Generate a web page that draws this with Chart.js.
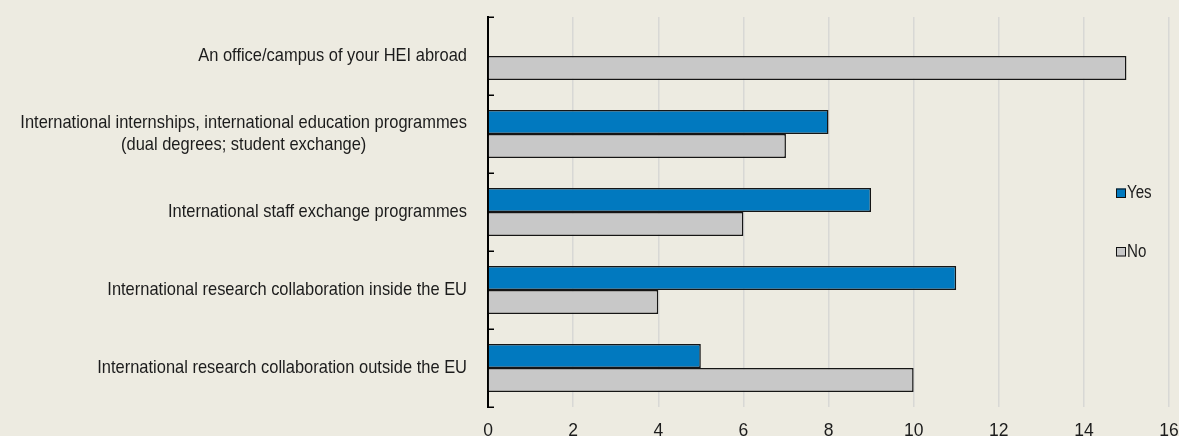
<!DOCTYPE html>
<html>
<head>
<meta charset="utf-8">
<script src="https://cdn.jsdelivr.net/npm/chart.js@4/dist/chart.umd.min.js"></script>
<style>
  html, body { margin: 0; padding: 0; background: #EDEBE1; overflow: hidden; }
  #wrap { position: relative; width: 1179px; height: 436px; }
</style>
</head>
<body>
<div id="wrap"><canvas id="chart"></canvas></div>
<script>
// Category labels (multi-line where needed)
const categories = [
  ["An office/campus of your HEI abroad"],
  ["International internships, international education programmes", "(dual degrees; student exchange)"],
  ["International staff exchange programmes"],
  ["International research collaboration inside the EU"],
  ["International research collaboration outside the EU"]
];
const seriesNames = ["Yes", "No"];
const yesValues = [null, 8, 9, 11, 5];
const noValues = [15, 7, 6, 4, 10];
const xMin = 0;
const xMax = 16;
const xStep = 2;

const BG = '#EDEBE1';
const TEXT = '#1c1c1c';
const BLUE = '#0179BF';
const GREY = '#C8C8C8';
const FONT = '"Liberation Sans", Arial, sans-serif';

// Slightly condensed text, drawn straight on the canvas
function condensedText(ctx, str, x, y, align, size, sx) {
  ctx.save();
  ctx.font = size + 'px ' + FONT;
  ctx.fillStyle = TEXT;
  ctx.textBaseline = 'middle';
  ctx.translate(x, y);
  ctx.scale(sx, 1);
  ctx.textAlign = align;
  ctx.fillText(str, 0, 0);
  ctx.restore();
}

const backgroundPlugin = {
  id: 'bg',
  beforeDraw(chart) {
    const { ctx, width, height } = chart;
    ctx.save();
    ctx.fillStyle = BG;
    ctx.fillRect(0, 0, width, height);
    ctx.restore();
  }
};

// Category labels, inward tick marks on the value axis, and the legend
const decorPlugin = {
  id: 'decor',
  afterDraw(chart) {
    const { ctx, chartArea } = chart;
    const yScale = chart.scales.y;
    const n = categories.length;
    const size = 18.5, sx = 0.89, lineH = 22;

    // category labels, lines centred on each other, block right-aligned
    const right = chartArea.left - 21;
    ctx.save();
    ctx.font = size + 'px ' + FONT;
    categories.forEach((lines, i) => {
      const yc = yScale.getPixelForValue(i);
      const w = Math.max(...lines.map(l => ctx.measureText(l).width)) * sx;
      lines.forEach((l, j) => {
        const yy = yc + (j - (lines.length - 1) / 2) * lineH;
        condensedText(ctx, l, right - w / 2, yy, 'center', size, sx);
      });
    });
    ctx.restore();

    // tick marks between categories, pointing into the plot
    ctx.save();
    ctx.strokeStyle = '#000';
    ctx.lineWidth = 1.5;
    const step = (chartArea.bottom - chartArea.top) / n;
    for (let k = 0; k <= n; k++) {
      const y = Math.round(chartArea.top + k * step) + 0.25;
      ctx.beginPath();
      ctx.moveTo(chartArea.left, y);
      ctx.lineTo(chartArea.left + 6, y);
      ctx.stroke();
    }
    ctx.restore();

    // legend
    const items = [
      { label: seriesNames[0], color: BLUE, y: 193 },
      { label: seriesNames[1], color: GREY, y: 251.5 }
    ];
    ctx.save();
    items.forEach(it => {
      ctx.fillStyle = it.color;
      ctx.fillRect(1116, it.y - 4.5, 10, 9.5);
      ctx.strokeStyle = '#111';
      ctx.lineWidth = 1;
      ctx.strokeRect(1116.5, it.y - 4, 9, 8.5);
      condensedText(ctx, it.label, 1127, it.y + 0.5, 'left', 18, 0.84);
    });
    ctx.restore();
  }
};

new Chart(document.getElementById('chart'), {
  type: 'bar',
  data: {
    labels: categories,
    datasets: [
      { label: seriesNames[0], data: yesValues, backgroundColor: BLUE, borderColor: '#151515', borderWidth: 1.5 },
      { label: seriesNames[1], data: noValues, backgroundColor: GREY, borderColor: '#151515', borderWidth: 1.5 }
    ]
  },
  options: {
    indexAxis: 'y',
    responsive: true,
    maintainAspectRatio: false,
    animation: false,
    layout: { padding: { top: 17, right: 10, left: 0, bottom: 0 } },
    datasets: { bar: { categoryPercentage: 0.615, barPercentage: 1 } },
    plugins: { legend: { display: false }, tooltip: { enabled: false } },
    scales: {
      x: {
        min: xMin, max: xMax,
        ticks: { stepSize: xStep, color: TEXT, font: { family: FONT, size: 17.5 }, padding: 14 },
        grid: { color: '#D8D8D5', lineWidth: 1.5, drawTicks: false },
        border: { display: false },
        afterFit(s) { s.height = 29; s.paddingLeft = 0; s.paddingRight = 0; }
      },
      y: {
        ticks: { display: false },
        grid: { display: false },
        border: { display: true, color: '#000', width: 2 },
        afterFit(s) { s.width = 488; }
      }
    }
  },
  plugins: [backgroundPlugin, decorPlugin]
});
</script>
</body>
</html>
